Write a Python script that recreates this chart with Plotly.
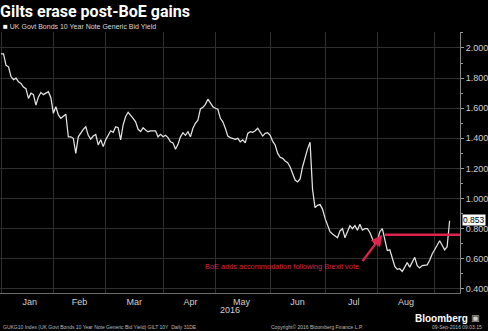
import pandas as pd
import plotly.graph_objects as go

# UK 10-year gilt generic bid yield, one value per weekday (Jan 1 - Sep 9, 2016)
jan = [1.96, 1.96, 1.885, 1.875, 1.81, 1.79, 1.80, 1.775, 1.765, 1.74, 1.73,
       1.665, 1.70, 1.69, 1.62, 1.675, 1.705, 1.69, 1.70, 1.71, 1.67]
feb = [1.566, 1.61, 1.555, 1.533, 1.55, 1.56, 1.41, 1.41, 1.40, 1.30, 1.41,
       1.44, 1.46, 1.477, 1.42, 1.395, 1.415, 1.425, 1.356, 1.39, 1.345]
mar = [1.39, 1.42, 1.45, 1.44, 1.477, 1.47, 1.39, 1.49, 1.545, 1.573, 1.555,
       1.533, 1.51, 1.46, 1.445, 1.47, 1.455, 1.444, 1.45, 1.45, 1.45, 1.41, 1.426]
apr = [1.41, 1.42, 1.405, 1.377, 1.37, 1.327, 1.36, 1.41, 1.437, 1.42, 1.444,
       1.41, 1.467, 1.50, 1.52, 1.595, 1.606, 1.626, 1.66, 1.633, 1.61]
may = [1.60, 1.593, 1.533, 1.51, 1.467, 1.415, 1.405, 1.40, 1.393, 1.40, 1.377,
       1.39, 1.37, 1.433, 1.444, 1.44, 1.45, 1.467, 1.444, 1.415, 1.433, 1.437]
jun = [1.42, 1.38, 1.356, 1.30, 1.274, 1.267, 1.25, 1.238, 1.21, 1.16, 1.123,
       1.11, 1.13, 1.21, 1.278, 1.33, 1.374, 1.06, 0.94, 0.955, 0.96, 0.93]
jul = [0.87, 0.83, 0.78, 0.765, 0.755, 0.74, 0.785, 0.80, 0.74, 0.78, 0.82,
       0.80, 0.82, 0.79, 0.83, 0.79, 0.80, 0.80, 0.775, 0.735, 0.70]
aug = [0.72, 0.78, 0.80, 0.72, 0.655, 0.66, 0.61, 0.55, 0.53, 0.534, 0.516,
       0.545, 0.575, 0.545, 0.575, 0.61, 0.555, 0.54, 0.555, 0.56, 0.56, 0.59, 0.632]
sep = [0.66, 0.69, 0.72, 0.69, 0.66, 0.68, 0.853]

yields = jan + feb + mar + apr + may + jun + jul + aug + sep
dates = pd.bdate_range("2016-01-01", "2016-09-09")

# Level at the Bank of England's August easing and the date it was announced
boe_date = "2016-08-04"
boe_level = 0.76
note_text = "BoE adds accommodation following Brexit vote"

y_ticks = [0.4, 0.6, 0.8, 1.0, 1.2, 1.4, 1.6, 1.8, 2.0]

title = "Gilts erase post-BoE gains"
series_name = "UK Govt Bonds 10 Year Note Generic Bid Yield"
footer_left = "GUKG10 Index (UK Govt Bonds 10 Year Note Generic Bid Yield) GILT 10Y  Daily 31DE"
footer_mid = "Copyright\u00a9 2016 Bloomberg Finance L.P."
footer_right = "09-Sep-2016 09:03:15"

RED = "#e0234c"
GRID = "#2f2f2f"
FONT = "Liberation Sans"

fig = go.Figure()
fig.add_trace(go.Scatter(
    x=dates, y=yields, mode="lines",
    line=dict(color="#e4e4e4", width=1.25),
    showlegend=False, hoverinfo="skip",
))

# BoE reference level, from the announcement date to the right edge
fig.add_shape(type="line", xref="x", yref="y",
              x0=boe_date, x1="2016-09-15 04:00", y0=boe_level, y1=boe_level,
              line=dict(color=RED, width=2.5))

# Arrow pointing at the start of the reference level
fig.add_annotation(x="2016-08-03", y=boe_level, xref="x", yref="y",
                   ax="2016-07-21 14:00", ay=0.575, axref="x", ayref="y",
                   text="", showarrow=True, arrowhead=2, arrowsize=1,
                   arrowwidth=2.3, arrowcolor=RED)
fig.add_annotation(x="2016-07-21 12:00", y=0.548, xref="x", yref="y",
                   text=note_text, showarrow=False, xanchor="right",
                   font=dict(family=FONT, size=7.4, color="#d8283f"))

# Last value tag
fig.add_annotation(x=1, y=yields[-1], xref="paper", yref="y",
                   text=f"{yields[-1]:.3f}", showarrow=False, xanchor="left",
                   xshift=2, yshift=1, bgcolor="#ffffff", borderpad=0,
                   font=dict(family=FONT, size=8.5, color="#000000"))

# Title, series key and footer
fig.add_annotation(x=0, y=1.077, xref="paper", yref="paper", xshift=-2,
                   text=f"<b>{title}</b>", showarrow=False,
                   xanchor="left", yanchor="middle",
                   font=dict(family="Roboto", size=16, color="#ffffff"))
fig.add_annotation(x=0, y=1.022, xref="paper", yref="paper", xshift=1,
                   text=f"<span style='font-size:8px;color:#ffffff'>\u25a0</span> {series_name}",
                   showarrow=False, xanchor="left", yanchor="middle",
                   font=dict(family=FONT, size=7, color="#d8d8d8"))
fig.add_annotation(x=0.5, y=-0.066, xref="paper", yref="paper",
                   text="2016", showarrow=False, xanchor="center", yanchor="middle",
                   font=dict(family=FONT, size=9, color="#d0d0d0"))
fig.add_annotation(x=0, y=-0.130, xref="paper", yref="paper", xshift=1,
                   text=footer_left, showarrow=False, xanchor="left", yanchor="middle",
                   font=dict(family=FONT, size=5, color="#bbbbbb"))
fig.add_annotation(x=0.585, y=-0.130, xref="paper", yref="paper",
                   text=footer_mid, showarrow=False, xanchor="left", yanchor="middle",
                   font=dict(family=FONT, size=5, color="#bbbbbb"))
fig.add_annotation(x=1, y=-0.130, xref="paper", yref="paper", xshift=24,
                   text=footer_right, showarrow=False, xanchor="right", yanchor="middle",
                   font=dict(family=FONT, size=5, color="#bbbbbb"))
fig.add_annotation(x=1, y=-0.096, xref="paper", yref="paper", xshift=10,
                   text="<b>Bloomberg</b>", showarrow=False, xanchor="right", yanchor="middle",
                   font=dict(family=FONT, size=10, color="#ffffff"))
fig.add_annotation(x=1, y=-0.096, xref="paper", yref="paper", xshift=22,
                   text="\u25a3", showarrow=False, xanchor="right", yanchor="middle",
                   font=dict(family="DejaVu Sans", size=9, color="#cfcfcf"))

fig.update_layout(
    width=488, height=331,
    margin=dict(l=0, r=26, t=32, b=38),
    paper_bgcolor="#000000", plot_bgcolor="#000000",
    font=dict(family=FONT, color="#d0d0d0"),
    xaxis=dict(
        type="date",
        range=["2015-12-31 14:00", "2016-09-15 04:00"],
        rangebreaks=[dict(bounds=["sat", "mon"])],
        tick0="2016-01-01", dtick="M1", tickformat="%b",
        ticklabelmode="period",
        showgrid=True, gridcolor=GRID, gridwidth=1,
        showline=True, linecolor="#6a6a6a", linewidth=1,
        ticks="", ticklabelstandoff=0,
        tickfont=dict(family=FONT, size=9, color="#d0d0d0"),
        zeroline=False, fixedrange=True,
    ),
    yaxis=dict(
        side="right", range=[0.373, 2.106],
        tickvals=y_ticks, tickformat=".3f",
        showgrid=True, gridcolor=GRID, gridwidth=1,
        showline=True, linecolor="#8a8a8a", linewidth=1,
        ticks="outside", ticklen=3, tickcolor="#9a9a9a",
        minor=dict(dtick=0.1, ticks="outside", ticklen=2, tickcolor="#9a9a9a",
                   showgrid=False),
        tickfont=dict(family=FONT, size=9, color="#d0d0d0"),
        zeroline=False, fixedrange=True,
    ),
)

fig.write_html("out.html")
